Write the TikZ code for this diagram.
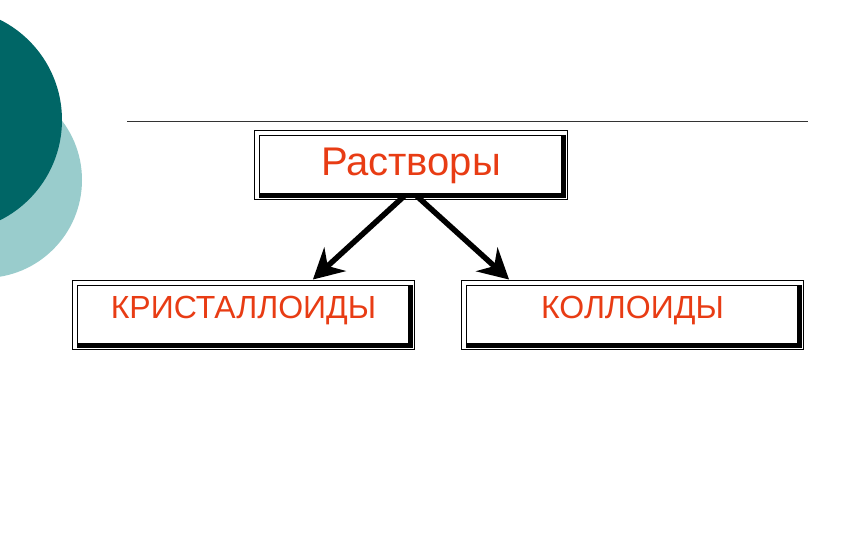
\documentclass[tikz,border=0pt]{standalone}
\usepackage{fontspec}
\setmainfont{Liberation Sans}
\usetikzlibrary{arrows.meta}

\definecolor{darkteal}{RGB}{0,102,102}
\definecolor{lightteal}{RGB}{153,204,204}
\definecolor{labelred}{RGB}{232,60,20}

\begin{document}
\begin{tikzpicture}[x=1pt,y=-1pt,
  framebox/.style={draw, line width=1.2pt, inner sep=0pt, text=labelred,
    minimum width=332pt, minimum height=59pt},
  arrowline/.style={line width=5.5pt, shorten >=8pt,
    -{Stealth[length=30pt,width=32pt,inset=10pt]}}]

% Page size
\useasboundingbox (0,0) rectangle (851,540);

% Discs on the left edge
\begin{scope}
\clip (0,0) rectangle (851,540);
\fill[lightteal] (-16,180) circle (98);
\fill[darkteal] (-50,120) circle (112);
\end{scope}

% Rule under the title area
\coordinate (ruleL) at (127,121);
\coordinate (ruleR) at (808,121);
\draw[line width=0.8pt, black!80] (ruleL) -- (ruleR);

% Boxes
\node[framebox, minimum width=303.5pt, minimum height=59.5pt,
  text depth=6pt, font=\fontsize{40}{40}\selectfont]
  (solutions) at (411,165) {Растворы};
\node[framebox, text depth=15pt, font=\fontsize{32}{32}\selectfont]
  (crystalloids) at (243.5,315) {КРИСТАЛЛОИДЫ};
\node[framebox, text depth=15pt, font=\fontsize{32}{32}\selectfont]
  (colloids) at (632.5,315) {КОЛЛОИДЫ};

% Outer thin frame and heavy bottom/right edge of each box
\foreach \n in {solutions,crystalloids,colloids} {
  \draw[line width=0.9pt] ([shift={(-4.5,-4.5)}]\n.north west)
    rectangle ([shift={(4.5,4.5)}]\n.south east);
  \draw[line width=5pt] (\n.north east) -- (\n.south east) -- (\n.south west);
}

% Arrows
\draw[arrowline] ([xshift=-6pt]solutions.south) -- ([xshift=63.5pt]crystalloids.north);
\draw[arrowline] ([xshift=5pt]solutions.south) -- ([xshift=-117.5pt]colloids.north);

\end{tikzpicture}
\end{document}
